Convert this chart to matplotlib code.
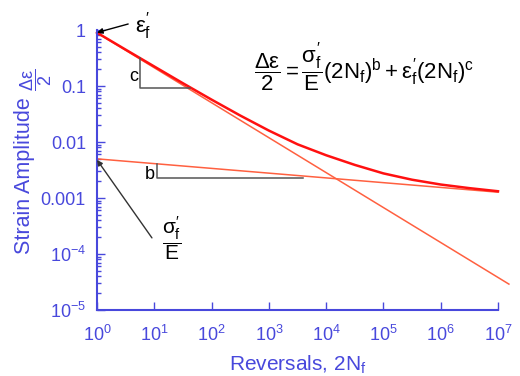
import numpy as np
import matplotlib.pyplot as plt
from matplotlib.ticker import LogLocator, NullFormatter, FixedLocator

plt.rcParams['font.family'] = ['Liberation Sans', 'DejaVu Sans']
plt.rcParams['mathtext.fontset'] = 'custom'
plt.rcParams['mathtext.rm'] = 'Liberation Sans'
plt.rcParams['mathtext.it'] = 'Liberation Sans'
plt.rcParams['mathtext.bf'] = 'Liberation Sans:bold'

# Linhas elastica e plastica (extremos)
elastic_x = [1, 1e7]
elastic_y = [0.005, 0.00127]
plastic_x = [1, 1.55e7]
plastic_y = [0.89, 2.9e-5]

# Curva total
total_x = [1, 10**0.5, 10, 10**1.5, 100, 10**2.5, 1e3, 10**3.5, 1e4,
           10**4.5, 1e5, 10**5.5, 1e6, 10**6.5, 1e7]
total_y = [0.896, 0.446, 0.223, 0.112, 0.0571, 0.0297, 0.0160, 0.0091, 0.0058,
           0.0039, 0.00275, 0.00212, 0.00174, 0.00150, 0.00132]

# Triangulos de inclinacao
tri_c_x = [5.6, 5.6, 42]
tri_c_y = [0.31, 0.092, 0.092]
tri_b_x = [11, 11, 4000]
tri_b_y = [0.0040, 0.0023, 0.0023]

x_ticks = [1e0, 1e1, 1e2, 1e3, 1e4, 1e5, 1e6, 1e7]
x_labels = ['$10^{0}$', '$10^{1}$', '$10^{2}$', '$10^{3}$', '$10^{4}$',
            '$10^{5}$', '$10^{6}$', '$10^{7}$']
y_ticks = [1e-5, 1e-4, 1e-3, 1e-2, 1e-1, 1]
y_labels = ['$10^{-5}$', '$10^{-4}$', '0.001', '0.01', '0.1', '1']

blue = '#4848dc'

fig = plt.figure(figsize=(5.2, 3.76), dpi=100)
ax = fig.add_axes([97/520, 1-310/376, (498-97)/520, 280/376])

ax.plot(elastic_x, elastic_y, color='#ff6040', lw=1.1, clip_on=False)
ax.plot(plastic_x, plastic_y, color='#ff6040', lw=1.1, clip_on=False)
ax.plot(total_x, total_y, color='#ff1010', lw=1.8, clip_on=False)
ax.plot(tri_c_x, tri_c_y, color='#555555', lw=1.1)
ax.plot(tri_b_x, tri_b_y, color='#555555', lw=1.1)

ax.set_xscale('log')
ax.set_yscale('log')
ax.set_xlim(1, 1e7)
ax.set_ylim(1e-5, 1)

ax.xaxis.set_major_locator(FixedLocator(x_ticks))
ax.set_xticklabels(x_labels)
ax.yaxis.set_major_locator(FixedLocator(y_ticks))
ax.set_yticklabels(y_labels)
ax.xaxis.set_minor_locator(LogLocator(base=10, subs=np.arange(2, 10)))
ax.yaxis.set_minor_locator(LogLocator(base=10, subs=np.arange(2, 10)))
ax.xaxis.set_minor_formatter(NullFormatter())
ax.yaxis.set_minor_formatter(NullFormatter())

for s in ['top', 'right']:
    ax.spines[s].set_visible(False)
for s in ['left', 'bottom']:
    ax.spines[s].set_color(blue)
    ax.spines[s].set_linewidth(1.5)
ax.tick_params(which='both', direction='in', colors=blue, labelsize=13, width=1)
ax.tick_params(which='major', length=6, pad=8)
ax.tick_params(axis='x', which='major', pad=11)
ax.tick_params(which='minor', length=3)

ax.set_xlabel('Reversals, 2N$_f$', color=blue, fontsize=15)
ax.xaxis.set_label_coords(0.5, -0.155)

# rotulo do eixo y: texto + fracao pequena
fig.text(25/520, 1-176/376, 'Strain Amplitude', color=blue, fontsize=15.5,
         rotation=90, ha='center', va='center')
fig.text(36/520, 1-80/376, r'$\dfrac{\Delta\varepsilon}{2}$', color=blue, fontsize=13,
         rotation=90, ha='center', va='center')

ax.text(4.3, 0.092*1.6, 'c', fontsize=13, ha='center', va='center')
ax.text(8.4, 0.0023*1.15, 'b', fontsize=13, ha='center', va='center')

ax.annotate('', xy=(1, 0.9), xytext=(3.5, 1.28), annotation_clip=False,
            arrowprops=dict(arrowstyle='-|>', color='k', lw=1, mutation_scale=8,
                            shrinkA=0, shrinkB=0))
ax.text(4.6, 1.2, r'$\varepsilon_f^{\prime}$', fontsize=16, ha='left', va='center')

ax.annotate('', xy=(1, 0.0048), xytext=(9.1, 1.94e-4),
            arrowprops=dict(arrowstyle='-|>', color='#333333', lw=1, mutation_scale=8,
                            shrinkA=0, shrinkB=0))
ax.text(20, 1.9e-4, r'$\dfrac{\sigma_f^{\prime}}{E}$', fontsize=15, ha='center', va='center')

fig.text(364/520, 1-67/376,
         r'$\dfrac{\Delta\varepsilon}{2} = \dfrac{\sigma_f^{\prime}}{E}(2N_f)^b + \varepsilon_f^{\prime}(2N_f)^c$',
         fontsize=16, ha='center', va='center')

fig.savefig('out.png', dpi=100)
